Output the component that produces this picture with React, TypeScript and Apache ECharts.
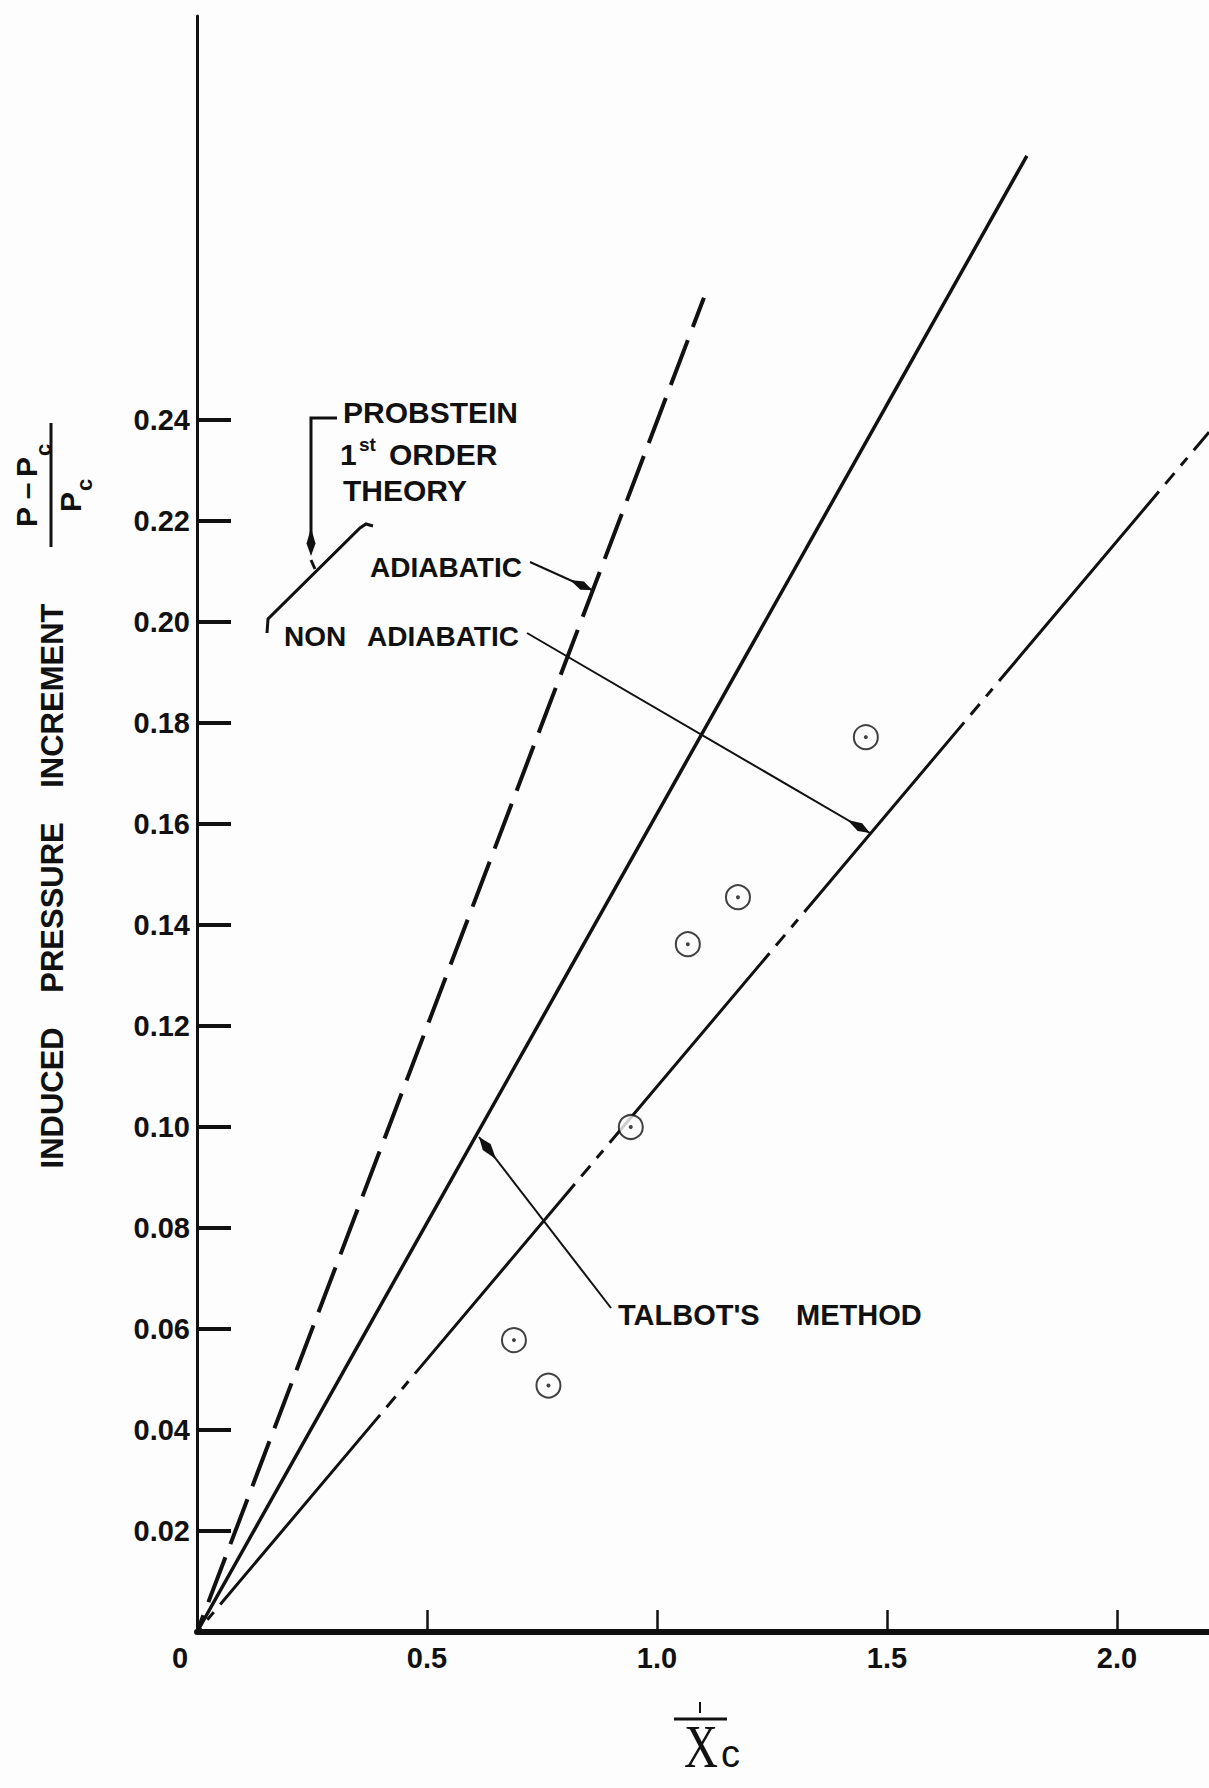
import React, { useEffect, useRef } from "react";
import * as echarts from "echarts";

// ---- data ----
const xTickValues = [0.5, 1.0, 1.5, 2.0];
const xLabelValues = [0, 0.5, 1.0, 1.5, 2.0];
const yTickValues = [0.02, 0.04, 0.06, 0.08, 0.1, 0.12, 0.14, 0.16, 0.18, 0.2, 0.22, 0.24];

const probsteinAdiabaticX = [0, 1.102];
const probsteinAdiabaticY = [0, 0.2642];
const talbotAdiabaticX = [0, 1.804];
const talbotAdiabaticY = [0, 0.2923];
const talbotNonAdiabaticX = [0, 2.2];
const talbotNonAdiabaticY = [0, 0.2376];
const experimentX = [0.689, 0.764, 0.943, 1.067, 1.176, 1.454];
const experimentY = [0.0578, 0.0488, 0.1, 0.1362, 0.1455, 0.1772];

const INK = "#111";
const SANS = '"Liberation Sans", Arial, sans-serif';
const SERIF = '"Liberation Serif", "DejaVu Serif", serif';

const zip = (xs: number[], ys: number[]) => xs.map((x, i) => [x, ys[i]]);

function txt(text: string, x: number, y: number, size = 29, align = "left", extra: any = {}) {
  return {
    type: "text",
    x,
    y,
    silent: true,
    ...extra,
    style: {
      text,
      fill: INK,
      fontSize: size,
      fontFamily: SANS,
      fontWeight: "bold",
      align,
      verticalAlign: "middle",
      textAlign: align,
      textVerticalAlign: "middle",
      ...(extra.style || {}),
    },
  };
}

function seg(x1: number, y1: number, x2: number, y2: number, w = 2) {
  return { type: "line", silent: true, shape: { x1, y1, x2, y2 }, style: { stroke: INK, lineWidth: w } };
}

function arrowHead(tipX: number, tipY: number, fromX: number, fromY: number, len = 24, half = 4.5) {
  const dx = tipX - fromX;
  const dy = tipY - fromY;
  const l = Math.hypot(dx, dy);
  const ux = dx / l;
  const uy = dy / l;
  const bx = tipX - ux * len;
  const by = tipY - uy * len;
  const mx = tipX - ux * len * 0.45;
  const my = tipY - uy * len * 0.45;
  return {
    type: "polygon",
    silent: true,
    shape: {
      points: [
        [tipX, tipY],
        [mx - uy * half, my + ux * half],
        [bx, by],
        [mx + uy * half, my - ux * half],
      ],
    },
    style: { fill: INK },
  };
}

export default function App() {
  const ref = useRef<HTMLDivElement>(null);

  useEffect(() => {
    if (!ref.current) return;
    const chart = echarts.init(ref.current, undefined, { renderer: "svg" });

    const labelStyle = {
      color: INK,
      fontFamily: SANS,
      fontWeight: "bold" as const,
      fontSize: 29,
    };

    const graphic: any[] = [
      // y-axis title
      txt("INDUCED    PRESSURE    INCREMENT", 52, 886, 31, "center", { rotation: Math.PI / 2 }),
      // (P - Pc) / Pc fraction, rotated
      {
        type: "group",
        x: 51,
        y: 485,
        rotation: Math.PI / 2,
        silent: true,
        children: [
          { type: "line", shape: { x1: -62, y1: 0, x2: 62, y2: 0 }, style: { stroke: INK, lineWidth: 3 } },
          txt("P", -42, -25, 30),
          txt("\u2013", -6, -25, 30, "center"),
          txt("P", 8, -25, 30),
          txt("c", 29, -8, 22),
          txt("P", -27, 19, 30),
          txt("c", -6, 33, 22),
        ],
      },
      // x-axis title  X-bar c
      seg(674, 1719, 727, 1719, 3),
      seg(700, 1702, 700, 1713, 2),
      {
        type: "text",
        x: 701,
        y: 1746,
        scaleX: 0.76,
        silent: true,
        style: {
          text: "X",
          fill: INK,
          fontSize: 62,
          fontFamily: SERIF,
          fontWeight: "normal",
          align: "center",
          verticalAlign: "middle",
          textAlign: "center",
          textVerticalAlign: "middle",
        },
      },
      {
        type: "text",
        x: 721,
        y: 1754,
        silent: true,
        style: {
          text: "c",
          fill: INK,
          fontSize: 38,
          fontFamily: SANS,
          fontWeight: "normal",
          align: "left",
          verticalAlign: "middle",
          textAlign: "left",
          textVerticalAlign: "middle",
        },
      },
      // Probstein annotation
      txt("PROBSTEIN", 343, 412, 30),
      txt("1", 340, 454, 30),
      txt("st", 359, 444, 19),
      txt("ORDER", 389, 454, 30),
      txt("THEORY", 343, 490, 30),
      { type: "polyline", silent: true, shape: { points: [[337, 418], [311, 418], [311, 540]] }, style: { stroke: INK, lineWidth: 3, fill: "none" } },
      arrowHead(311, 556, 311, 418, 28, 4.5),
      {
        type: "polyline",
        silent: true,
        shape: { points: [[267, 633], [268, 619], [360, 528], [366, 524], [373, 526]] },
        style: { stroke: INK, lineWidth: 3, fill: "none" },
      },
      seg(311, 560, 315, 569, 3),
      txt("ADIABATIC", 370, 567, 28),
      txt("NON", 284, 636, 28),
      txt("ADIABATIC", 367, 636, 28),
      seg(530, 562, 592, 590, 2),
      arrowHead(592, 590, 530, 562, 24, 4.5),
      seg(527, 633, 870, 833, 2),
      arrowHead(870, 833, 527, 633, 26, 4.5),
      // Talbot annotation
      txt("TALBOT'S", 618, 1315, 29),
      txt("METHOD", 796, 1315, 29),
      seg(611, 1308, 479, 1137, 2),
      arrowHead(479, 1137, 611, 1308, 28, 5),
    ];

    chart.setOption({
      animation: false,
      backgroundColor: "#fdfdfd",
      grid: { left: 197, right: 0, top: 16, bottom: 156, containLabel: false },
      xAxis: {
        type: "value",
        min: 0,
        max: 2.2,
        splitLine: { show: false },
        axisLine: { show: true, onZero: false, lineStyle: { color: INK, width: 6 } },
        axisTick: {
          show: true,
          inside: true,
          length: 22,
          customValues: xTickValues,
          lineStyle: { color: INK, width: 2.5 },
        },
        axisLabel: {
          ...labelStyle,
          customValues: xLabelValues,
          margin: 11,
          formatter: (v: number) => (v === 0 ? "{z|0}" : v.toFixed(1)),
          rich: {
            z: { ...labelStyle, padding: [0, 34, 0, 0] },
          },
        },
      },
      yAxis: {
        type: "value",
        min: 0,
        max: 0.32,
        splitLine: { show: false },
        axisLine: { show: true, onZero: false, lineStyle: { color: INK, width: 3 } },
        axisTick: {
          show: true,
          inside: true,
          length: 34,
          customValues: yTickValues,
          lineStyle: { color: INK, width: 4 },
        },
        axisLabel: {
          ...labelStyle,
          customValues: yTickValues,
          margin: 7,
          formatter: (v: number) => v.toFixed(2),
        },
      },
      series: [
        {
          name: "Probstein 1st order theory (adiabatic)",
          type: "line",
          data: zip(probsteinAdiabaticX, probsteinAdiabaticY),
          symbol: "none",
          lineStyle: { color: INK, width: 4, type: [48, 14], dashOffset: 30 },
          z: 3,
        },
        {
          name: "Talbot's method (adiabatic)",
          type: "line",
          data: zip(talbotAdiabaticX, talbotAdiabaticY),
          symbol: "none",
          lineStyle: { color: INK, width: 3.5 },
          z: 3,
        },
        {
          name: "Talbot's method (non adiabatic)",
          type: "line",
          data: zip(talbotNonAdiabaticX, talbotNonAdiabaticY),
          symbol: "none",
          lineStyle: { color: INK, width: 3, type: [14, 10, 10, 10, 248, 10], dashOffset: 8 },
          z: 3,
        },
        {
          name: "Experiment",
          type: "scatter",
          data: zip(experimentX, experimentY),
          symbol: "circle",
          symbolSize: 24,
          itemStyle: { color: "#fdfdfd", borderColor: INK, borderWidth: 2 },
          z: 4,
        },
        {
          name: "Experiment centre",
          type: "scatter",
          data: zip(experimentX, experimentY),
          symbol: "circle",
          symbolSize: 4,
          itemStyle: { color: INK },
          z: 5,
        },
      ],
      graphic,
    });

    return () => chart.dispose();
  }, []);

  return (
    <div
      ref={ref}
      style={{ position: "absolute", left: 0, top: 0, width: 1209, height: 1788 }}
    />
  );
}
